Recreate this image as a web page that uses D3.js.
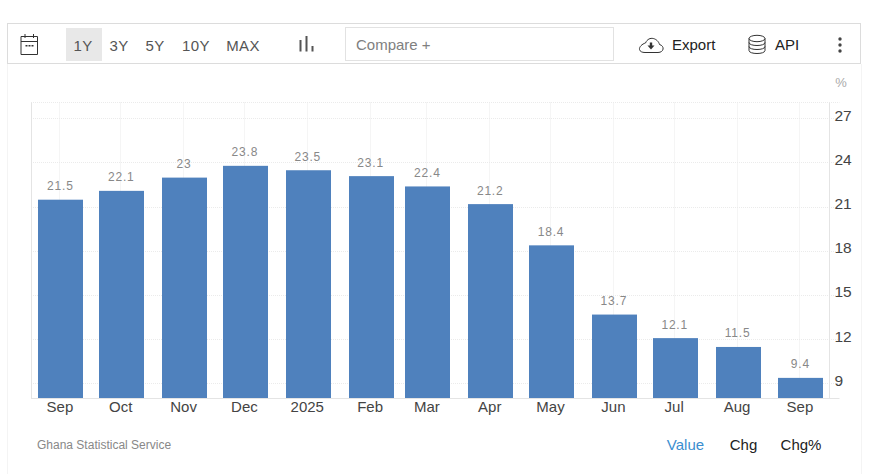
<!DOCTYPE html>
<html>
<head>
<meta charset="utf-8">
<script src="https://cdnjs.cloudflare.com/ajax/libs/d3/7.8.5/d3.min.js"></script>
<style>
html, body { margin: 0; padding: 0; background: #fff; }
svg { display: block; }
text { font-family: "Liberation Sans", Arial, sans-serif; }
</style>
</head>
<body>
<div id="chart"></div>
<script>
var w = 879, h = 474;

// data
var dates = ['2024-09-01','2024-10-01','2024-11-01','2024-12-01','2025-01-01','2025-02-01','2025-03-01',
             '2025-04-01','2025-05-01','2025-06-01','2025-07-01','2025-08-01','2025-09-01'];
var tickLabels = ['Sep','Oct','Nov','Dec','2025','Feb','Mar','Apr','May','Jun','Jul','Aug','Sep'];
var values = [21.5, 22.1, 23, 23.8, 23.5, 23.1, 22.4, 21.2, 18.4, 13.7, 12.1, 11.5, 9.4];
var valueLabels = ['21.5','22.1','23','23.8','23.5','23.1','22.4','21.2','18.4','13.7','12.1','11.5','9.4'];
var yTicks = [9, 12, 15, 18, 21, 24, 27];
var ranges = ['1Y','3Y','5Y','10Y','MAX'];
var rangeX = [83, 119, 155, 196, 243];
var modes = ['Value','Chg','Chg%'];
var modeX = [685.5, 743.5, 801];
var source = 'Ghana Statistical Service';

var parse = d3.timeParse('%Y-%m-%d');
var parsed = dates.map(parse);

var left = 31, right = 829.5, top_ = 102.5, bottom = 398.5;

var x = d3.scaleTime()
    .domain([parsed[0], parsed[12]])
    .range([60.9, 800.9]);
var y = d3.scaleLinear()
    .domain([8, 28.1])
    .range([bottom, top_]);
var barW = 45;

var svg = d3.select('#chart').append('svg')
    .attr('width', w)
    .attr('height', h);

// outer panel
svg.append('path')
    .attr('d', 'M7.5,64V474M861.5,64V474')
    .attr('stroke', '#f4f4f4')
    .attr('fill', 'none');

// grid
var grid = svg.append('g');
grid.selectAll('line.gy')
    .data(yTicks.concat([28.1]))
    .enter().append('line')
    .attr('class', 'gy')
    .attr('x1', left).attr('x2', right + 10)
    .attr('y1', d => Math.floor(y(d)) + 0.5)
    .attr('y2', d => Math.floor(y(d)) + 0.5)
    .attr('stroke', '#ebebeb')
    .attr('stroke-dasharray', '1 1');
grid.selectAll('line.gx')
    .data(parsed)
    .enter().append('line')
    .attr('class', 'gx')
    .attr('x1', d => Math.floor(x(d)) - 0.5)
    .attr('x2', d => Math.floor(x(d)) - 0.5)
    .attr('y1', top_).attr('y2', bottom)
    .attr('stroke', '#ebebeb')
    .attr('stroke-dasharray', '1 1');
grid.append('line')
    .attr('x1', left + 0.5).attr('x2', left + 0.5)
    .attr('y1', top_).attr('y2', bottom)
    .attr('stroke', '#e4e4e4');

// bars
svg.append('g').selectAll('rect')
    .data(values)
    .enter().append('rect')
    .attr('x', (d, i) => Math.round(x(parsed[i]) - barW / 2))
    .attr('y', d => y(d))
    .attr('width', barW)
    .attr('height', d => bottom - y(d))
    .attr('fill', '#4f81bd');

// value labels
svg.append('g').selectAll('text')
    .data(values)
    .enter().append('text')
    .attr('x', (d, i) => x(parsed[i]) - 0.5)
    .attr('y', d => y(d) - 9.5)
    .attr('text-anchor', 'middle')
    .attr('font-size', 12)
    .attr('letter-spacing', 0.8)
    .attr('fill', '#888')
    .text((d, i) => valueLabels[i]);

// x axis
var xAxis = d3.axisBottom(x)
    .tickValues(parsed)
    .tickSize(0)
    .tickPadding(3)
    .tickFormat((d, i) => tickLabels[i]);
var gx = svg.append('g')
    .attr('transform', 'translate(-1.5,' + bottom + ')')
    .call(xAxis);
gx.select('.domain').remove();
gx.selectAll('text')
    .attr('font-size', 15)
    .attr('font-family', '"Liberation Sans", Arial, sans-serif')
    .attr('fill', '#444');
svg.append('line')
    .attr('x1', left).attr('x2', right + 10)
    .attr('y1', bottom).attr('y2', bottom)
    .attr('stroke', '#e4e4e4');

// y axis
var yAxis = d3.axisRight(y)
    .tickValues(yTicks)
    .tickSize(0)
    .tickPadding(5);
var gy = svg.append('g')
    .attr('transform', 'translate(' + right + ',0)')
    .call(yAxis);
gy.select('.domain').remove();
gy.selectAll('text')
    .attr('font-size', 15.5)
    .attr('font-family', '"Liberation Sans", Arial, sans-serif')
    .attr('fill', '#444')
    .attr('dy', '0.1em');
svg.append('line')
    .attr('x1', right).attr('x2', right)
    .attr('y1', top_).attr('y2', bottom)
    .attr('stroke', '#e4e4e4');

svg.append('text')
    .attr('x', 841).attr('y', 87)
    .attr('text-anchor', 'middle')
    .attr('font-size', 13)
    .attr('fill', '#aaa')
    .text('%');

// toolbar
svg.append('rect')
    .attr('x', 7.5).attr('y', 23.5)
    .attr('width', 853).attr('height', 40)
    .attr('fill', '#fff')
    .attr('stroke', '#dcdcdc');
svg.append('rect')
    .attr('x', 66).attr('y', 28)
    .attr('width', 36).attr('height', 33)
    .attr('fill', '#e8e8e8');
svg.append('g').selectAll('text')
    .data(ranges)
    .enter().append('text')
    .attr('x', (d, i) => rangeX[i])
    .attr('y', 50.5)
    .attr('text-anchor', 'middle')
    .attr('font-size', 15)
    .attr('letter-spacing', 0.4)
    .attr('fill', '#555')
    .text(d => d);

// calendar icon
svg.append('path')
    .attr('d', 'M21,36.5H37.5V54.5H21ZM21,41.5H37.5M25,34V38M33.5,34V38')
    .attr('fill', 'none')
    .attr('stroke', '#333')
    .attr('stroke-width', 1);
svg.append('path')
    .attr('d', 'M25.5,45h2v1.5h-2ZM28.5,45h2v1.5h-2ZM31.5,45h2v1.5h-2Z')
    .attr('fill', '#333');

// bar chart icon
svg.append('path')
    .attr('d', 'M300.5,40v11.5M306.5,36v15.5M312.5,46v5.5')
    .attr('fill', 'none')
    .attr('stroke', '#555')
    .attr('stroke-width', 2);

// compare box
svg.append('rect')
    .attr('x', 345.5).attr('y', 27.5)
    .attr('width', 268).attr('height', 33)
    .attr('fill', '#fff')
    .attr('stroke', '#e2e2e2');
svg.append('text')
    .attr('x', 356).attr('y', 49.5)
    .attr('font-size', 15)
    .attr('fill', '#808080')
    .text('Compare +');

// export
svg.append('path')
    .attr('d', 'M645,52.5H658C664,52.5 665,46 659.5,44.5C658,38.5 649,35 645.5,43C642,44 639,47 639.5,49.5C640,51.5 642,52.5 645,52.5Z')
    .attr('fill', 'none')
    .attr('stroke', '#333')
    .attr('stroke-width', 1);
svg.append('path')
    .attr('d', 'M649.8,42.5h2.4v3h2.3l-3.5,4l-3.5,-4h2.3Z')
    .attr('fill', '#333');
svg.append('text')
    .attr('x', 672).attr('y', 50)
    .attr('font-size', 15)
    .attr('fill', '#222')
    .text('Export');

// api
svg.append('ellipse')
    .attr('cx', 757).attr('cy', 38.5).attr('rx', 8).attr('ry', 3.2)
    .attr('fill', 'none').attr('stroke', '#333');
svg.append('path')
    .attr('d', 'M749,38.5V50.5C749,54.5 765,54.5 765,50.5V38.5M749,42.5C749,46.5 765,46.5 765,42.5M749,46.5C749,50.5 765,50.5 765,46.5')
    .attr('fill', 'none')
    .attr('stroke', '#333');
svg.append('text')
    .attr('x', 775).attr('y', 50)
    .attr('font-size', 15)
    .attr('fill', '#222')
    .text('API');

// menu dots
svg.append('g').selectAll('circle')
    .data([39, 45, 51])
    .enter().append('circle')
    .attr('cx', 840).attr('cy', d => d).attr('r', 1.7)
    .attr('fill', '#444');

// footer
svg.append('text')
    .attr('x', 37).attr('y', 449)
    .attr('font-size', 12)
    .attr('fill', '#888')
    .text(source);
svg.append('g').selectAll('text')
    .data(modes)
    .enter().append('text')
    .attr('x', (d, i) => modeX[i])
    .attr('y', 450)
    .attr('text-anchor', 'middle')
    .attr('font-size', 15)
    .attr('fill', (d, i) => i === 0 ? '#3b8ed0' : '#222')
    .text(d => d);
</script>
</body>
</html>
